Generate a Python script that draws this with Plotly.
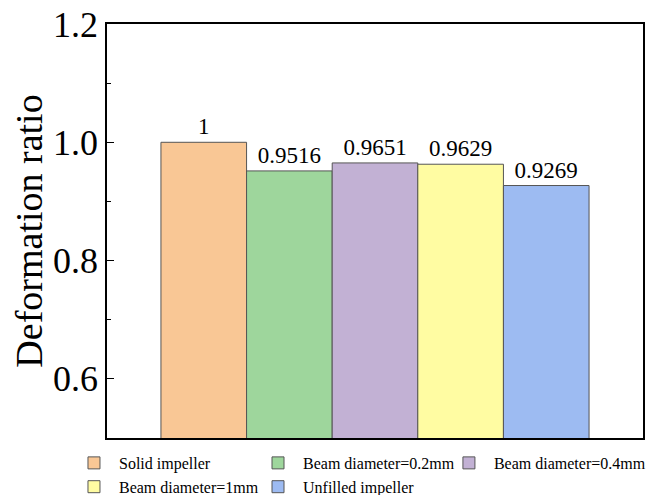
import plotly.graph_objects as go

series_names = ["Solid impeller", "Beam diameter=0.2mm", "Beam diameter=0.4mm",
                "Beam diameter=1mm", "Unfilled impeller"]
ratios = [1.0, 0.9516, 0.9651, 0.9629, 0.9269]
labels = ["1", "0.9516", "0.9651", "0.9629", "0.9269"]
colors = ["#F9C795", "#9ED69C", "#C2B1D4", "#FFFCA2", "#9DBBF2"]
positions = [0, 1, 2, 3, 4]
legend_column = ["legend", "legend2", "legend3", "legend", "legend2"]

FONT = "Liberation Serif"

fig = go.Figure()
for name, v, lab, c, p, lg in zip(series_names, ratios, labels, colors, positions, legend_column):
    fig.add_trace(go.Bar(
        x=[p], y=[v], name=name, width=1, legend=lg,
        marker=dict(color=c, line=dict(color="#555555", width=1)),
        text=[lab], textposition="outside", cliponaxis=False,
        textfont=dict(family=FONT, size=23, color="black"),
    ))

leg_common = dict(
    orientation="v", xanchor="left", y=-0.0193, yanchor="top",
    font=dict(family=FONT, size=16, color="black"),
    itemwidth=40, bgcolor="rgba(0,0,0,0)",
)

fig.update_layout(
    width=650, height=487,
    margin=dict(l=99, r=0, t=16, b=57, autoexpand=False),
    paper_bgcolor="white", plot_bgcolor="white",
    font=dict(family=FONT, color="black"),
    showlegend=True,
    barmode="overlay",
    legend=dict(x=-0.069, **leg_common),
    legend2=dict(x=0.265, **leg_common),
    legend3=dict(x=0.6115, **leg_common),
)
fig.update_xaxes(
    domain=[0, 536 / 551],
    range=[-1.13, 5.13], showticklabels=False, ticks="",
    showline=True, linecolor="black", linewidth=1.5, mirror=True,
    showgrid=False, zeroline=False, fixedrange=True,
)
fig.update_yaxes(
    range=[0.5, 1.2], tick0=0.6, dtick=0.2, tickformat=".1f",
    ticks="inside", ticklen=7, tickwidth=1, tickcolor="black",
    minor=dict(ticks="inside", ticklen=4, tickwidth=1, tickcolor="black", dtick=0.1, tick0=0.5),
    tickfont=dict(family=FONT, size=36, color="black"),
    ticklabelstandoff=0, ticklabeloverflow="allow",
    title=dict(text="Deformation ratio", font=dict(family=FONT, size=38, color="black"), standoff=6),
    showline=True, linecolor="black", linewidth=1.5, mirror=True,
    showgrid=False, zeroline=False,
)

fig.write_html("out.html")
